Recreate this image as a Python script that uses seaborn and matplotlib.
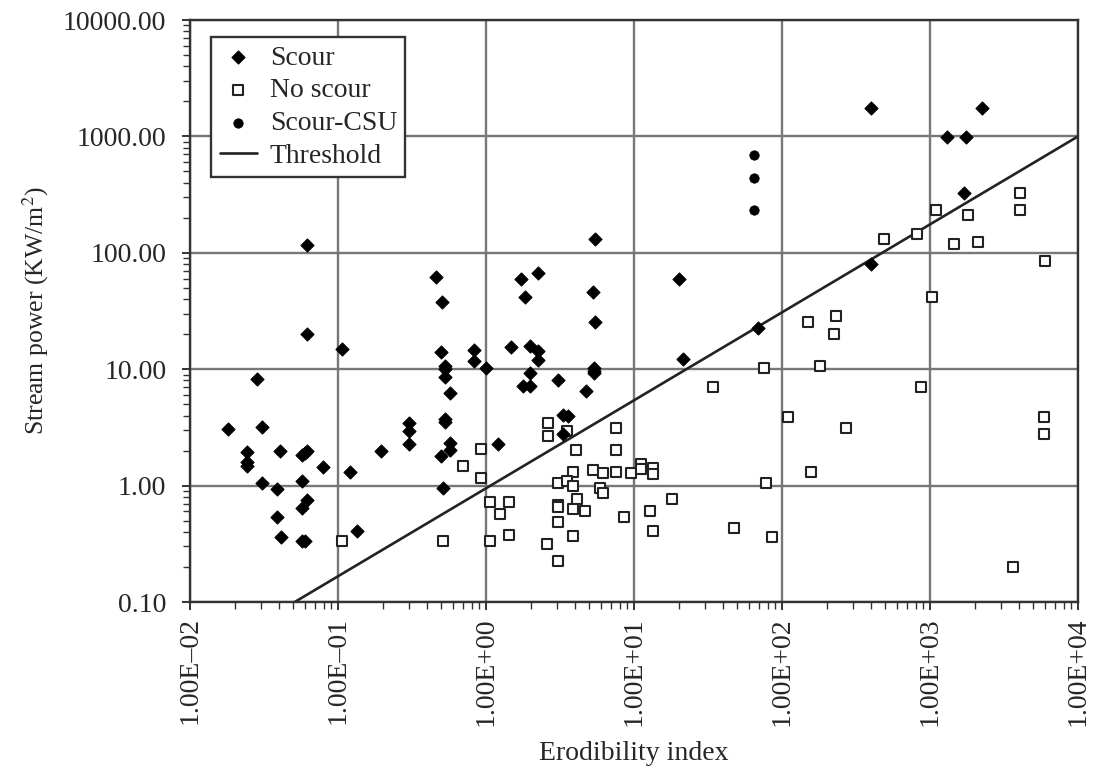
import matplotlib
matplotlib.use("Agg")
import matplotlib.pyplot as plt
from matplotlib.ticker import FixedLocator, LogLocator, NullFormatter, FixedFormatter
import seaborn as sns
import pandas as pd

# Erodibility index (K) vs stream power (kW/m^2)
scour_k = [0.0182, 0.0244, 0.0244, 0.0244, 0.0285, 0.0308, 0.0308, 0.0386, 0.0386, 0.041,
           0.0407, 0.057, 0.060, 0.062, 0.057, 0.062, 0.057, 0.057, 0.060, 0.0615,
           0.0615, 0.0789, 0.107, 0.12, 0.135, 0.194, 0.30, 0.30, 0.30, 0.457,
           0.507, 0.50, 0.528, 0.528, 0.528, 0.574, 0.528, 0.528, 0.574, 0.574,
           0.50, 0.51, 0.826, 0.826, 1.0, 1.21, 1.47, 1.72, 1.84, 2.23,
           1.98, 2.25, 2.25, 1.98, 1.79, 1.98, 3.08, 3.33, 3.6, 3.33,
           4.74, 5.3, 5.45, 5.45, 5.4, 5.4, 5.4, 20, 21.3, 69,
           399, 399, 1309, 1742, 1706, 2234]
scour_p = [3.05, 1.95, 1.6, 1.48, 8.2, 3.17, 1.05, 0.935, 0.54, 0.36,
           1.98, 1.85, 1.92, 2.0, 1.09, 0.75, 0.645, 0.336, 0.336, 20,
           117, 1.44, 14.8, 1.32, 0.41, 1.98, 3.45, 2.94, 2.28, 61.5,
           38, 14, 10.7, 10.0, 8.6, 6.2, 3.73, 3.5, 2.34, 2.02,
           1.81, 0.95, 14.6, 11.8, 10.3, 2.26, 15.4, 60, 42, 66.7,
           15.9, 14.4, 12.0, 9.2, 7.2, 7.2, 8.1, 4.04, 3.95, 2.76,
           6.5, 46, 131, 25.3, 10.2, 9.6, 9.2, 59, 12.2, 22.5,
           1742, 79.6, 995, 995, 324, 1742]

noscour_k = [0.107, 0.51, 0.925, 0.70, 0.925, 2.61, 2.61, 3.54, 4.06, 7.5,
             7.5, 3.85, 5.3, 6.15, 7.5, 9.6, 11.1, 11.1, 13.5, 13.5,
             3.08, 3.54, 3.85, 5.9, 6.15, 4.1, 3.08, 3.08, 3.85, 4.7,
             1.06, 1.44, 1.24, 1.06, 1.44, 2.6, 3.08, 3.08, 3.85, 8.55,
             12.8, 13.5, 18.2, 34.4, 47.4, 75.5, 77.6, 86, 1094, 1816,
             4055, 4055, 491, 813, 1452, 2099, 5984, 1038, 149, 231,
             224, 181, 865, 109, 271, 5890, 5890, 158, 3620]
noscour_p = [0.336, 0.336, 2.05, 1.48, 1.17, 3.47, 2.67, 2.94, 2.02, 3.1,
             2.02, 1.31, 1.35, 1.29, 1.3, 1.29, 1.53, 1.38, 1.42, 1.27,
             1.05, 1.1, 1.0, 0.95, 0.86, 0.77, 0.68, 0.66, 0.625, 0.6,
             0.72, 0.72, 0.57, 0.336, 0.38, 0.315, 0.49, 0.226, 0.37, 0.54,
             0.61, 0.41, 0.77, 7.1, 0.43, 10.3, 1.06, 0.365, 233, 211,
             329, 233, 131, 144, 119, 123, 85.5, 42, 25.3, 28.9,
             20, 10.7, 7.1, 3.86, 3.14, 3.86, 2.76, 1.3, 0.2]

csu_k = [65, 65, 65]
csu_p = [692, 437, 233]

threshold_k = [0.051, 10000]
threshold_p = [0.1, 1000]

x_ticks = [1e-2, 1e-1, 1e0, 1e1, 1e2, 1e3, 1e4]
x_labels = ["1.00E\u201302", "1.00E\u201301", "1.00E+00", "1.00E+01",
            "1.00E+02", "1.00E+03", "1.00E+04"]
y_ticks = [0.1, 1, 10, 100, 1000, 10000]
y_labels = ["0.10", "1.00", "10.00", "100.00", "1000.00", "10000.00"]

sns.set_theme(style="white")
plt.rcParams["font.family"] = ["Liberation Serif", "DejaVu Serif"]
plt.rcParams["mathtext.fontset"] = "stix"

INK = "#262626"

fig = plt.figure(figsize=(10.96, 7.71), dpi=100)
ax = fig.add_axes([190 / 1096, 1 - 602 / 771, (1078 - 190) / 1096, (602 - 20) / 771])
ax.set_xscale("log")
ax.set_yscale("log")
ax.set_xlim(1e-2, 1e4)
ax.set_ylim(0.1, 1e4)

# grid at each decade
for xv in x_ticks:
    ax.axvline(xv, color="#777777", lw=1.7, zorder=1)
for yv in y_ticks:
    ax.axhline(yv, color="#777777", lw=1.7, zorder=1)

df_s = pd.DataFrame({"K": scour_k, "P": scour_p})
df_n = pd.DataFrame({"K": noscour_k, "P": noscour_p})
df_c = pd.DataFrame({"K": csu_k, "P": csu_p})
df_t = pd.DataFrame({"K": threshold_k, "P": threshold_p})

sns.scatterplot(data=df_s, x="K", y="P", marker="D", s=44, color="black",
                edgecolor="black", linewidth=0.8, label="Scour", ax=ax, zorder=4)
sns.scatterplot(data=df_n, x="K", y="P", marker="s", s=54, facecolor="white",
                edgecolor="#222222", linewidth=1.5, label="No scour", ax=ax, zorder=3)
sns.scatterplot(data=df_c, x="K", y="P", marker="o", s=46, color="black",
                edgecolor="black", linewidth=0.5, label="Scour-CSU", ax=ax, zorder=4)
sns.lineplot(data=df_t, x="K", y="P", color="#222222", lw=1.9, label="Threshold",
             ax=ax, zorder=2)

for sp in ax.spines.values():
    sp.set_color("#333333")
    sp.set_linewidth(1.7)

ax.xaxis.set_major_locator(FixedLocator(x_ticks))
ax.xaxis.set_major_formatter(FixedFormatter(x_labels))
ax.yaxis.set_major_locator(FixedLocator(y_ticks))
ax.yaxis.set_major_formatter(FixedFormatter(y_labels))
ax.xaxis.set_minor_locator(LogLocator(base=10, subs=range(2, 10), numticks=20))
ax.yaxis.set_minor_locator(LogLocator(base=10, subs=range(2, 10), numticks=20))
ax.xaxis.set_minor_formatter(NullFormatter())
ax.yaxis.set_minor_formatter(NullFormatter())
ax.tick_params(which="major", direction="inout", length=12, width=1.4, color="#333333",
               labelsize=20, bottom=True, left=True, top=False, right=False)
ax.tick_params(which="minor", direction="out", length=5, width=1.0, color="#333333",
               bottom=True, left=True, top=False, right=False)
ax.tick_params(axis="x", which="major", labelrotation=90, pad=5)
ax.tick_params(axis="y", which="major", pad=11)
for lbl in ax.get_xticklabels() + ax.get_yticklabels():
    lbl.set_color(INK)

ax.set_xlabel("Erodibility index", fontsize=20, color=INK, labelpad=11)
ax.set_ylabel("Stream power (KW/m$^2$)", fontsize=18.5, color=INK, labelpad=9)

leg = ax.legend(loc="upper left", bbox_to_anchor=(0.024, 0.971), fontsize=20,
                frameon=True, fancybox=False, edgecolor="#333333", framealpha=1,
                borderpad=0.3, labelspacing=0.26, handlelength=1.35, handletextpad=0.45,
                borderaxespad=0)
leg.get_frame().set_linewidth(1.7)
for t in leg.get_texts():
    t.set_color(INK)

fig.savefig("out.png", dpi=100)
